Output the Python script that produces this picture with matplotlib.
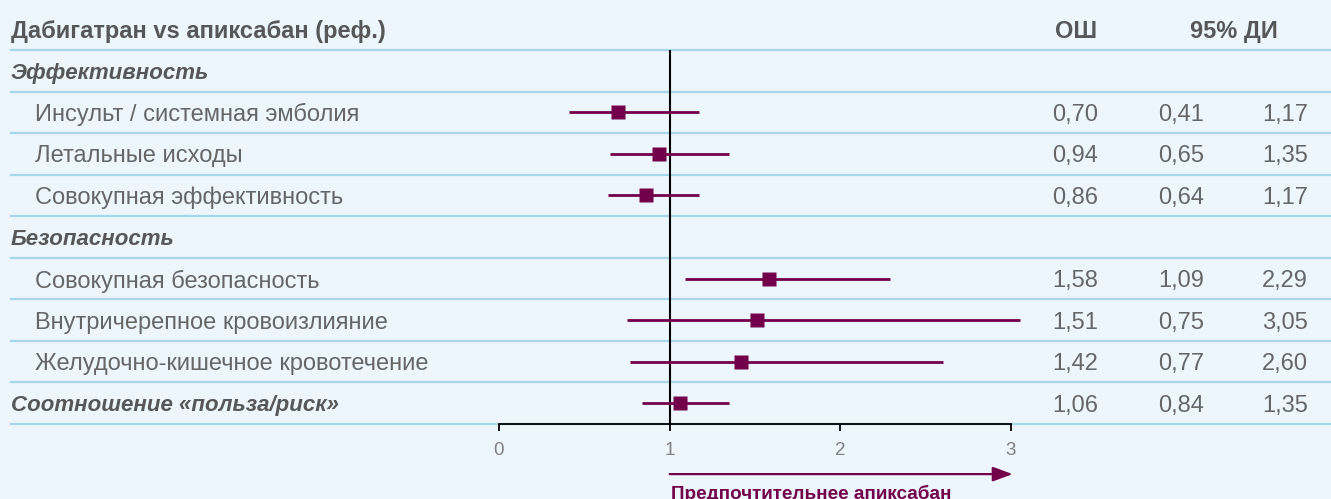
import matplotlib
matplotlib.use("Agg")
import matplotlib.pyplot as plt
from matplotlib.transforms import blended_transform_factory

# rows of the table; "section" rows are bold italic, "item" rows are indented
row_labels = [
    "Эффективность",
    "Инсульт / системная эмболия",
    "Летальные исходы",
    "Совокупная эффективность",
    "Безопасность",
    "Совокупная безопасность",
    "Внутричерепное кровоизлияние",
    "Желудочно-кишечное кровотечение",
    "Соотношение «польза/риск»",
]
row_kinds = ["section", "item", "item", "item", "section", "item", "item", "item", "section"]

odds_ratio = [None, 0.70, 0.94, 0.86, None, 1.58, 1.51, 1.42, 1.06]
ci_low = [None, 0.41, 0.65, 0.64, None, 1.09, 0.75, 0.77, 0.84]
ci_high = [None, 1.17, 1.35, 1.17, None, 2.29, 3.05, 2.60, 1.35]

x_ticks = [0, 1, 2, 3]

title_text = "Дабигатран vs апиксабан (реф.)"
col_or = "ОШ"
col_ci = "95% ДИ"
favours_text = "Предпочтительнее апиксабан"

BG = "#eef6fd"
PURPLE = "#73004b"
GRID = "#a6d7ea"
DARK = "#575757"
TEXT = "#666666"
DY = 0.06  # small nudge so text sits centred like the reference

plt.rcParams["font.family"] = ["Liberation Sans", "DejaVu Sans"]

W, H = 1331, 499
fig = plt.figure(figsize=(W / 100, H / 100), dpi=100)
fig.patch.set_facecolor(BG)

# forest plot axes: x 0..3 between px 499 and 1011, rows between px 50 and 424
ax = fig.add_axes([499 / W, (H - 424) / H, 512 / W, 374 / H])
ax.set_facecolor("none")
n = len(row_labels)
ax.set_xlim(0, 3)
ax.set_ylim(n + 0.5, 0.5)

fig_y = blended_transform_factory(fig.transFigure, ax.transData)

# separators
for k in range(n + 1):
    ax.plot([11 / W, 1.0], [k + 0.5, k + 0.5], transform=fig_y, color=GRID,
            lw=1.6, clip_on=False, zorder=1)

# reference line
ax.axvline(1, color="black", lw=1.5, zorder=2)

for i, (lab, kind) in enumerate(zip(row_labels, row_kinds)):
    y = i + 1
    if kind == "item":
        ax.text(35 / W, y + DY, lab, transform=fig_y, ha="left", va="center",
                fontsize=17, color=TEXT, clip_on=False)
    else:
        ax.text(11 / W, y + DY, lab, transform=fig_y, ha="left", va="center",
                fontsize=16, color=DARK, fontweight="bold", style="italic",
                clip_on=False)
    if odds_ratio[i] is not None:
        ax.plot([ci_low[i], ci_high[i]], [y, y], color=PURPLE, lw=2.0,
                solid_capstyle="butt", clip_on=False, zorder=3)
        ax.plot(odds_ratio[i], y, marker="s", ms=10, color=PURPLE, mec="none",
                zorder=4, clip_on=False)
        for val, xr in zip([odds_ratio[i], ci_low[i], ci_high[i]], [1098, 1204, 1308]):
            ax.text(xr / W, y + DY, f"{val:.2f}".replace(".", ","), transform=fig_y,
                    ha="right", va="center", fontsize=17, color=TEXT)

# header row
ax.text(11 / W, DY, title_text, transform=fig_y, ha="left", va="center",
        fontsize=17, color=DARK, fontweight="bold", clip_on=False)
ax.text(1097 / W, DY, col_or, transform=fig_y, ha="right", va="center",
        fontsize=17, color=DARK, fontweight="bold", clip_on=False)
ax.text(1234 / W, DY, col_ci, transform=fig_y, ha="center", va="center",
        fontsize=17, color=DARK, fontweight="bold", clip_on=False)

# x axis
for s in ["top", "left", "right"]:
    ax.spines[s].set_visible(False)
ax.spines["bottom"].set_color("black")
ax.spines["bottom"].set_linewidth(1.3)
ax.spines["bottom"].set_zorder(5)
ax.set_yticks([])
ax.set_xticks(x_ticks)
ax.set_xticklabels([str(t) for t in x_ticks])
ax.tick_params(axis="x", direction="out", length=5, width=1.3, color="black",
               labelsize=13.5, labelcolor="#808080", pad=8)

# favours arrow
xt = ax.get_xaxis_transform()
ax.annotate("", xy=(3.01, -0.134), xytext=(1.0, -0.134), xycoords=xt, textcoords=xt,
            arrowprops=dict(arrowstyle="-|>,head_length=0.6,head_width=0.22",
                            mutation_scale=20, color=PURPLE, lw=1.6,
                            shrinkA=0, shrinkB=0))
ax.text(1.01, -0.162, favours_text, transform=xt, ha="left", va="top",
        fontsize=13.6, color=PURPLE, fontweight="bold", clip_on=False)

fig.savefig("out.png", dpi=100, facecolor=BG)
